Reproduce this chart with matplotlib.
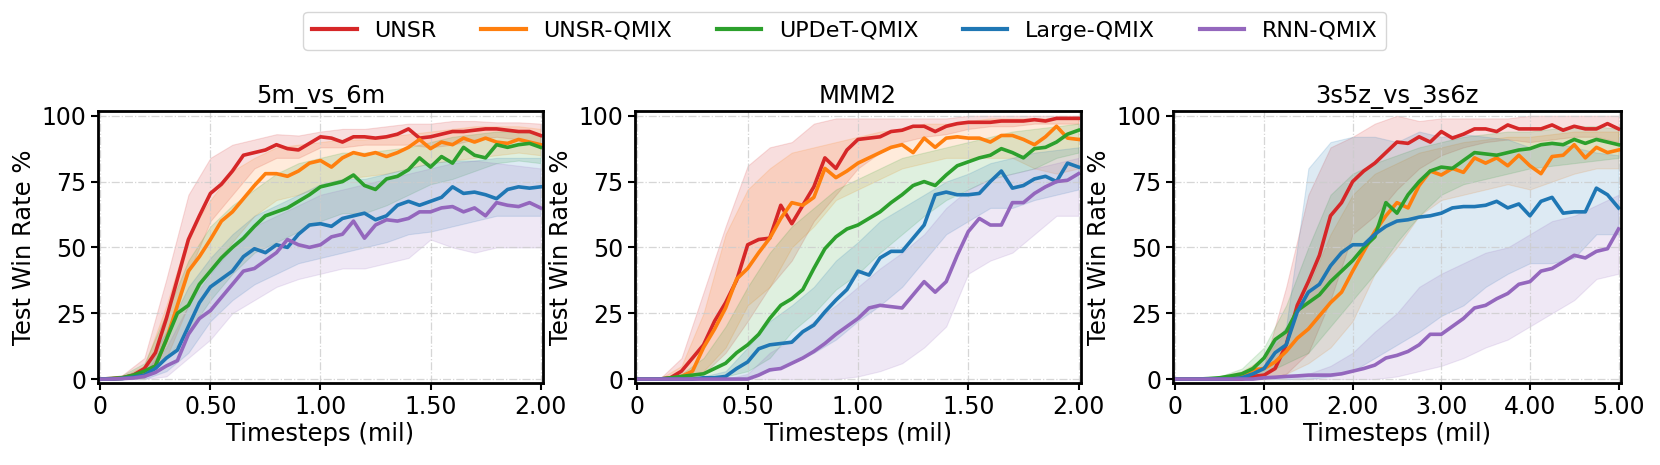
import numpy as np
import matplotlib
matplotlib.use('Agg')
import matplotlib.pyplot as plt
from matplotlib.ticker import FuncFormatter

methods = ['UNSR', 'UNSR-QMIX', 'UPDeT-QMIX', 'Large-QMIX', 'RNN-QMIX']
colors = ['#d62728', '#ff7f0e', '#2ca02c', '#1f77b4', '#9467bd']
titles = ['5m_vs_6m', 'MMM2', '3s5z_vs_3s6z']

# x grids (million timesteps)
x_2m = np.linspace(0, 2, 41)
x_2m_band = np.linspace(0, 2, 21)
x_5m = np.linspace(0, 5, 41)
x_5m_band = np.linspace(0, 5, 21)

# ---- 5m_vs_6m ----
unsr_1 = [0, 0.2, 0.5, 1.5, 4, 10, 23, 38, 53, 62, 70.5, 74, 79, 85, 86, 87, 89, 87.5, 87, 89.5, 92,
          91.5, 90, 92, 92, 91.5, 92, 93, 95, 91.5, 92, 93, 94, 94, 94.5, 95, 95, 94.5, 94, 94, 92.5]
unsr_qmix_1 = [0, 0, 0.3, 1, 2.5, 5, 15, 28, 41, 46.5, 53, 60, 63.5, 68.5, 73.5, 78, 78, 77, 79, 82, 83,
               80.5, 84, 86, 85, 86, 84.5, 86, 88, 91, 87.5, 90, 89, 91.5, 90, 91.5, 90, 89.5, 91, 90, 89]
updet_1 = [0, 0.2, 0.5, 1.5, 3, 5, 15, 25, 28, 36, 41, 46, 50, 53.5, 58, 62, 63.5, 65, 67.5, 70, 73,
           74, 75, 77.5, 73.5, 72, 76, 77, 79.5, 84, 80.5, 84.5, 82, 88, 85, 84, 89, 88, 89, 89.5, 88]
large_1 = [0, 0, 0.2, 0.7, 1.5, 4, 8, 11, 20, 29, 35, 38, 41, 46.5, 49.5, 48, 51, 50, 55, 58.5, 59,
           58, 61, 62, 63, 60.5, 62, 66, 67.5, 66, 67.5, 69, 73, 70.5, 71, 70, 68.5, 72, 73, 72.5, 73]
rnn_1 = [0, 0, 0.2, 0.4, 1, 2.5, 5, 7, 17, 23, 26, 31, 36, 41, 42, 45, 48, 53, 51, 50, 51,
         54, 55, 60, 53.5, 58.5, 60.5, 60, 61, 63.5, 63.5, 65, 65.5, 63.5, 65, 62, 67, 66, 65.5, 67, 65]

unsr_1_hi = [0, 1.5, 8, 38, 70, 84, 89, 91, 93, 92.5, 94, 95, 95, 96, 97, 97, 98, 98, 97.5, 97.5, 97]
unsr_1_lo = [0, 0, 1, 14, 40, 60, 70, 80, 84, 84, 88, 88, 89, 89, 89, 88, 89, 91, 92, 91, 89]
unsr_qmix_1_hi = [0, 1, 5, 28, 55, 68, 79, 84, 88, 89, 90, 91, 91, 92, 93, 94, 95, 96, 96, 96, 95]
unsr_qmix_1_lo = [0, 0, 0.5, 8, 28, 42, 52, 62, 68, 70, 73, 76, 77, 78, 80, 82, 83, 84, 85, 86, 85]
updet_1_hi = [0, 1.5, 6, 25, 45, 58, 66, 72, 78, 82, 84, 86, 86, 87, 88, 90, 92, 93, 94, 94, 93]
updet_1_lo = [0, 0, 0.5, 8, 18, 30, 40, 48, 52, 56, 60, 63, 63, 66, 70, 74, 76, 79, 82, 83, 82]
large_1_hi = [0, 1, 4, 18, 35, 46, 55, 62, 66, 70, 74, 76, 76, 78, 80, 82, 83, 83, 84, 84, 84]
large_1_lo = [0, 0, 0, 3, 10, 22, 30, 36, 40, 44, 46, 48, 50, 52, 55, 56, 58, 60, 62, 62, 62]
rnn_1_hi = [0, 1, 3, 12, 28, 40, 50, 58, 62, 66, 70, 72, 74, 76, 78, 80, 82, 83, 82, 81, 80]
rnn_1_lo = [0, 0, 0, 1, 8, 15, 25, 30, 35, 38, 40, 42, 42, 44, 46, 53, 50, 48, 50, 50, 50]

# ---- MMM2 ----
unsr_2 = [0, 0, 0, 0.5, 3, 8, 13, 22, 29, 37.5, 51, 53, 53.5, 66, 59, 66, 73, 84, 80, 87, 91,
          91.5, 92, 94, 94.5, 96, 96, 94, 96, 97, 97.5, 97.5, 97.5, 98, 98, 98, 98.5, 98, 99, 99, 99]
unsr_qmix_2 = [0, 0, 0, 0, 1, 3, 12, 19, 27, 38, 42, 48, 53.5, 61, 67, 66, 69, 80, 76.5, 79, 82,
               84, 86, 88, 89, 86, 91.5, 88, 91.5, 92, 91.5, 91.5, 90, 92.5, 92.5, 91, 89, 92, 96, 91.5, 91]
updet_2 = [0, 0, 0, 0.5, 1, 1.5, 2, 4, 6, 10, 13, 17, 23, 28, 30.5, 34, 42, 49.5, 54, 57, 58.5,
           61, 63.5, 67, 70, 73.5, 75, 73.5, 77.5, 81, 82.5, 84, 85, 87.5, 86, 84, 87.5, 88, 90, 93, 94.5]
large_2 = [0, 0, 0, 0, 0, 0, 0.5, 0.5, 1, 4, 6.5, 11.5, 13, 13.5, 14, 18, 20.5, 25.5, 30, 34, 41,
           39.5, 46, 48.5, 48.5, 53.5, 58.5, 70, 71, 70, 70, 70.5, 75, 79, 72.5, 73.5, 76, 77, 75, 82, 80.5]
rnn_2 = [0, 0, 0, 0, 0, 0, 0, 0, 0, 0, 0, 1.5, 3.5, 4, 6, 8, 10.5, 13.5, 17, 20, 23,
         27, 28, 27.5, 27, 32, 37, 33, 37, 47, 56, 61, 58.5, 58.5, 67, 67, 70.5, 73, 75, 75.5, 78]

unsr_2_hi = [0, 0, 8, 33, 58, 81, 88, 90, 97, 99, 99, 99, 99, 99, 99, 100, 100, 100, 100, 100, 100]
unsr_2_lo = [0, 0, 0, 2, 10, 22, 35, 45, 60, 70, 80, 86, 90, 92, 93, 95, 96, 96, 97, 97, 97]
unsr_qmix_2_hi = [0, 0, 5, 25, 55, 72, 80, 86, 88, 90, 92, 94, 95, 97, 97, 98, 99, 99, 99, 99, 99]
unsr_qmix_2_lo = [0, 0, 0, 3, 12, 28, 35, 50, 58, 68, 72, 76, 80, 82, 84, 84, 84, 84, 80, 78, 80]
updet_2_hi = [0, 0, 2, 8, 20, 35, 48, 58, 65, 72, 76, 80, 84, 86, 88, 90, 92, 94, 95, 96, 97]
updet_2_lo = [0, 0, 0, 0, 1, 3, 8, 18, 25, 34, 40, 48, 55, 62, 68, 72, 76, 78, 80, 84, 86]
large_2_hi = [0, 0, 0, 1, 3, 12, 22, 28, 35, 45, 52, 60, 65, 70, 75, 78, 82, 84, 86, 87, 88]
large_2_lo = [0, 0, 0, 0, 0, 1, 3, 6, 10, 15, 22, 28, 35, 45, 55, 60, 65, 65, 68, 70, 72]
rnn_2_hi = [0, 0, 0, 0, 0, 2, 10, 15, 22, 28, 35, 42, 48, 55, 65, 72, 76, 78, 80, 82, 84]
rnn_2_lo = [0, 0, 0, 0, 0, 0, 0, 0, 0, 0, 1, 3, 6, 12, 20, 40, 45, 48, 55, 62, 62]

# ---- 3s5z_vs_3s6z ----
unsr_3 = [0, 0, 0, 0, 0, 0, 0, 1, 1.5, 4, 13, 28, 37, 47, 62, 67, 75, 79, 82, 86, 90,
          89.5, 92, 90, 94, 91.5, 93, 95, 95, 94, 96.5, 95, 95, 95, 96.5, 94.5, 96, 95, 95, 97, 95]
unsr_qmix_3 = [0, 0, 0, 0, 0, 0, 1, 3.5, 4, 6.5, 10.5, 15.5, 19, 24, 29, 33, 41, 48.5, 56, 62, 67,
               65, 73.5, 79, 77.5, 80, 78.5, 84, 82, 84, 81, 85, 81, 78, 84.5, 85, 89, 84, 88, 86, 87]
updet_3 = [0, 0, 0, 0.2, 0.5, 1.2, 2, 4, 8, 15, 18, 26, 29, 32, 37, 41, 45, 50, 54, 67, 63,
           70, 75, 79, 80.5, 80, 83, 86, 85.5, 85, 86, 87, 87.5, 89, 89.5, 89, 91, 89.5, 91, 90, 89]
large_3 = [0, 0, 0, 0, 0, 0, 0.5, 2, 4, 10, 13, 25.5, 33, 36, 43, 48, 51, 51, 55, 58, 60,
           60.5, 61.5, 62, 63, 65, 65.5, 65.5, 66, 67.5, 65, 66.5, 62, 67.5, 69, 63, 63.5, 63.5, 72.5, 70, 65]
rnn_3 = [0, 0, 0, 0, 0, 0, 0, 0, 0.5, 0.7, 1, 1.2, 1.5, 1.5, 1.5, 2, 3, 4, 5.3, 8, 9,
         10.5, 13, 17, 17, 20, 23, 27, 28, 30.5, 32.5, 36, 37, 41, 42, 44.5, 47, 46, 48.5, 49.5, 57]

unsr_3_hi = [0, 0, 0.5, 2, 5, 35, 70, 88, 92, 97, 100, 98, 99, 99, 99, 99, 100, 100, 100, 100, 100]
unsr_3_lo = [0, 0, 0, 0, 0, 2, 10, 30, 55, 62, 72, 80, 85, 88, 90, 91, 90, 91, 92, 92, 90]
unsr_qmix_3_hi = [0, 0, 1, 3, 8, 18, 35, 55, 70, 78, 82, 86, 88, 90, 91, 92, 92, 93, 94, 94, 94]
unsr_qmix_3_lo = [0, 0, 0, 0, 0, 2, 6, 12, 22, 40, 50, 62, 68, 70, 72, 74, 72, 75, 78, 80, 80]
updet_3_hi = [0, 0, 1, 4, 12, 28, 50, 70, 78, 82, 85, 88, 90, 92, 93, 94, 94, 95, 96, 96, 95]
updet_3_lo = [0, 0, 0, 0, 2, 6, 10, 20, 30, 40, 52, 62, 70, 74, 76, 78, 80, 81, 82, 83, 84]
large_3_hi = [0, 0, 0.5, 2, 8, 20, 80, 90, 92, 92, 90, 94, 92, 93, 92, 91, 88, 90, 88, 86, 85]
large_3_lo = [0, 0, 0, 0, 0, 0, 0, 1, 3, 8, 13, 18, 24, 28, 35, 40, 44, 44, 46, 55, 55]
rnn_3_hi = [0, 0, 0, 0, 0.5, 1, 2, 5, 10, 18, 25, 35, 40, 44, 48, 50, 55, 60, 62, 66, 70]
rnn_3_lo = [0, 0, 0, 0, 0, 0, 0, 0, 0, 0, 1, 3, 5, 8, 12, 15, 20, 25, 30, 38, 40]

panels = [
    {'x': x_2m, 'xb': x_2m_band, 'xmax': 2, 'xticks': [0, 0.5, 1.0, 1.5, 2.0],
     'mean': [unsr_1, unsr_qmix_1, updet_1, large_1, rnn_1],
     'hi': [unsr_1_hi, unsr_qmix_1_hi, updet_1_hi, large_1_hi, rnn_1_hi],
     'lo': [unsr_1_lo, unsr_qmix_1_lo, updet_1_lo, large_1_lo, rnn_1_lo]},
    {'x': x_2m, 'xb': x_2m_band, 'xmax': 2, 'xticks': [0, 0.5, 1.0, 1.5, 2.0],
     'mean': [unsr_2, unsr_qmix_2, updet_2, large_2, rnn_2],
     'hi': [unsr_2_hi, unsr_qmix_2_hi, updet_2_hi, large_2_hi, rnn_2_hi],
     'lo': [unsr_2_lo, unsr_qmix_2_lo, updet_2_lo, large_2_lo, rnn_2_lo]},
    {'x': x_5m, 'xb': x_5m_band, 'xmax': 5, 'xticks': [0, 1, 2, 3, 4, 5],
     'mean': [unsr_3, unsr_qmix_3, updet_3, large_3, rnn_3],
     'hi': [unsr_3_hi, unsr_qmix_3_hi, updet_3_hi, large_3_hi, rnn_3_hi],
     'lo': [unsr_3_lo, unsr_qmix_3_lo, updet_3_lo, large_3_lo, rnn_3_lo]},
]

fig = plt.figure(figsize=(16.6, 4.65), dpi=100)
lefts = [0.0590, 0.3825, 0.7066]
widths = [0.2681, 0.2687, 0.2699]

fmt = FuncFormatter(lambda v, p: '0' if abs(v) < 1e-9 else f'{v:.2f}')

handles = []
for k, cfg in enumerate(panels):
    ax = fig.add_axes([lefts[k], 0.1763, widths[k], 0.585])
    for i, name in enumerate(methods):
        ax.fill_between(cfg['xb'], cfg['lo'][i], cfg['hi'][i], color=colors[i], alpha=0.15, linewidth=0.8)
    for i, name in enumerate(methods):
        ln, = ax.plot(cfg['x'], cfg['mean'][i], color=colors[i], linewidth=2.6, label=name)
        if k == 0:
            handles.append(ln)
    pad = cfg['xmax'] * 0.0055
    ax.set_xlim(-pad, cfg['xmax'] + pad)
    ax.set_ylim(-1.5, 101.8)
    ax.set_xticks(cfg['xticks'])
    ax.xaxis.set_major_formatter(fmt)
    ax.set_yticks([0, 25, 50, 75, 100])
    ax.tick_params(labelsize=17, width=1.5, length=5)
    ax.set_xlabel('Timesteps (mil)', fontsize=17.5, labelpad=2)
    ax.set_ylabel('Test Win Rate %', fontsize=17.5, labelpad=4)
    ax.set_title(titles[k], fontsize=17.5)
    ax.grid(True, linestyle='-.', color='#cccccc', linewidth=0.9, alpha=0.8)
    for s in ax.spines.values():
        s.set_linewidth(2)

leg = fig.legend(handles, methods, loc='upper center', bbox_to_anchor=(0.509, 0.998),
                 ncol=5, fontsize=16, frameon=True, handlelength=2.0)
for line in leg.get_lines():
    line.set_linewidth(3)

fig.savefig('out.png', dpi=100)
